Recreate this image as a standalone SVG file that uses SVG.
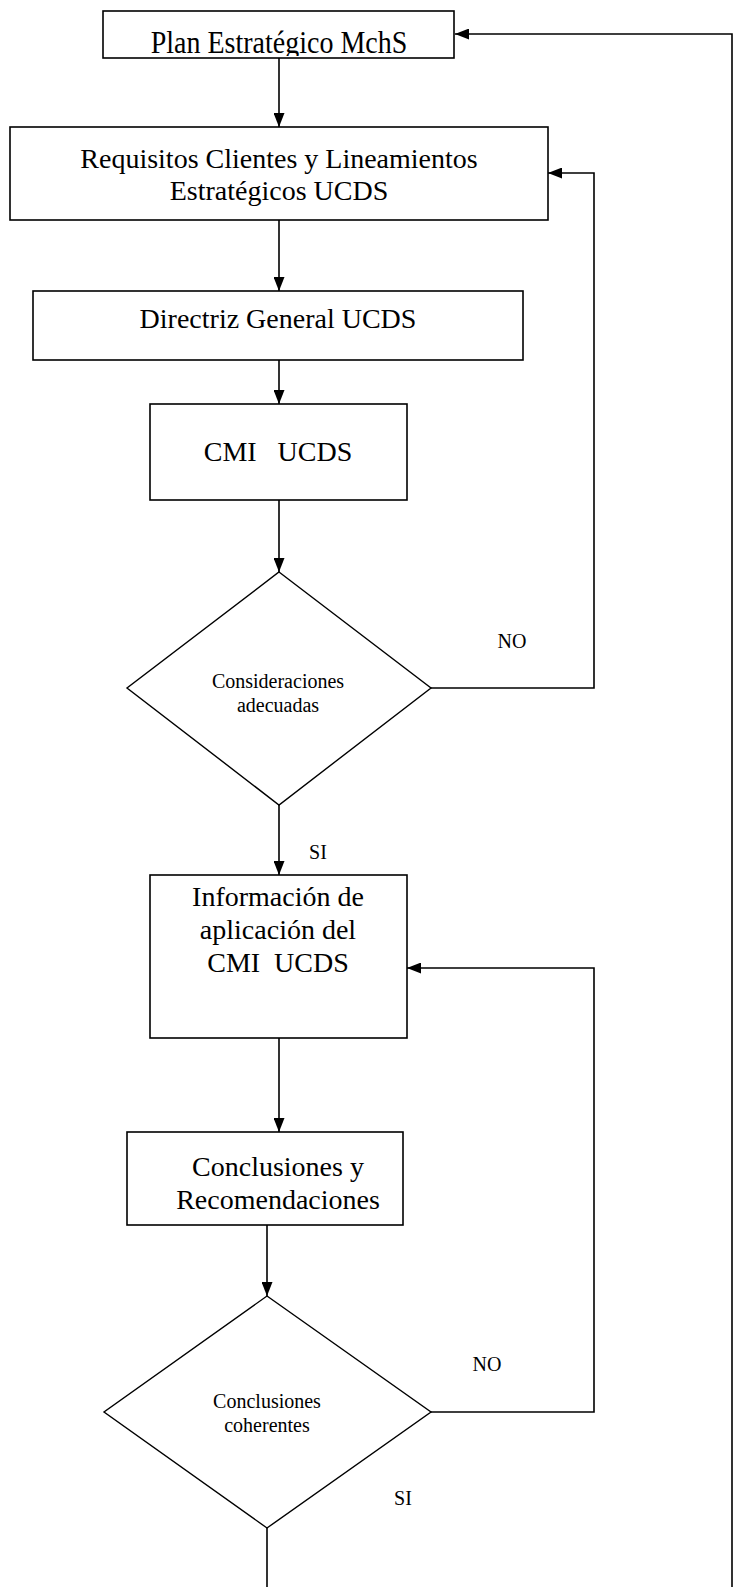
<svg xmlns="http://www.w3.org/2000/svg" width="739" height="1587" viewBox="0 0 739 1587">
<style>
.box{fill:#fff;stroke:#000;stroke-width:1.6}
.dia{fill:#fff;stroke:#000;stroke-width:1.4}
.big{font-family:"Liberation Serif","Times New Roman",serif;font-size:28px;fill:#000;text-anchor:middle}
.sm{font-family:"Liberation Serif","Times New Roman",serif;font-size:20px;fill:#000;text-anchor:middle}
.con{fill:none;stroke:#000;stroke-width:1.6}
</style>
<defs>
<marker id="ah" viewBox="0 0 14 11" refX="14" refY="5.5" markerWidth="14" markerHeight="11" markerUnits="userSpaceOnUse" orient="auto">
<path d="M0 0 L14 5.5 L0 11 Z" fill="#000"/>
</marker>
<clipPath id="c1"><rect x="104" y="12" width="350" height="44"/></clipPath>
</defs>
<rect width="739" height="1587" fill="#fff"/>
<g id="connectors">
<path class="con" d="M279 58 V127" marker-end="url(#ah)"/>
<path class="con" d="M279 220 V291" marker-end="url(#ah)"/>
<path class="con" d="M279 360 V404" marker-end="url(#ah)"/>
<path class="con" d="M279 500 V572" marker-end="url(#ah)"/>
<path class="con" d="M279 805 V875" marker-end="url(#ah)"/>
<path class="con" d="M279 1038 V1132" marker-end="url(#ah)"/>
<path class="con" d="M267 1225 V1296" marker-end="url(#ah)"/>
<path class="con" d="M431 688 H594 V173 H548" marker-end="url(#ah)"/>
<path class="con" d="M431 1412 H594 V968 H407" marker-end="url(#ah)"/>
<path class="con" d="M267 1528 V1587"/>
<path class="con" d="M732 1587 V34 H455" marker-end="url(#ah)"/>
<text class="sm" x="512" y="648">NO</text>
<text class="sm" x="318" y="859">SI</text>
<text class="sm" x="487" y="1371">NO</text>
<text class="sm" x="403" y="1505">SI</text>
</g>
<g id="plan">
<rect class="box" x="103" y="11" width="351" height="47"/>
<g clip-path="url(#c1)">
<text class="big" transform="translate(279 53) scale(1 1.15)" x="0" y="0">Plan Estratégico MchS</text>
</g>
</g>
<g id="requisitos">
<rect class="box" x="10" y="127" width="538" height="93"/>
<text class="big" x="279" y="168">Requisitos Clientes y Lineamientos</text>
<text class="big" x="279" y="200">Estratégicos UCDS</text>
</g>
<g id="directriz">
<rect class="box" x="33" y="291" width="490" height="69"/>
<text class="big" x="278" y="328">Directriz General UCDS</text>
</g>
<g id="cmi">
<rect class="box" x="150" y="404" width="257" height="96"/>
<text class="big" x="278" y="461" xml:space="preserve">CMI   UCDS</text>
</g>
<g id="consideraciones">
<path class="dia" d="M279 572 L431 688 L279 805 L127 688 Z"/>
<text class="sm" x="278" y="688">Consideraciones</text>
<text class="sm" x="278" y="712">adecuadas</text>
</g>
<g id="informacion">
<rect class="box" x="150" y="875" width="257" height="163"/>
<text class="big" x="278" y="906">Información de</text>
<text class="big" x="278" y="939">aplicación del</text>
<text class="big" x="278" y="972" xml:space="preserve">CMI  UCDS</text>
</g>
<g id="conclusiones">
<rect class="box" x="127" y="1132" width="276" height="93"/>
<text class="big" x="278" y="1176">Conclusiones y</text>
<text class="big" x="278" y="1209">Recomendaciones</text>
</g>
<g id="coherentes">
<path class="dia" d="M267 1296 L431 1412 L267 1528 L104 1412 Z"/>
<text class="sm" x="267" y="1408">Conclusiones</text>
<text class="sm" x="267" y="1432">coherentes</text>
</g>
</svg>
